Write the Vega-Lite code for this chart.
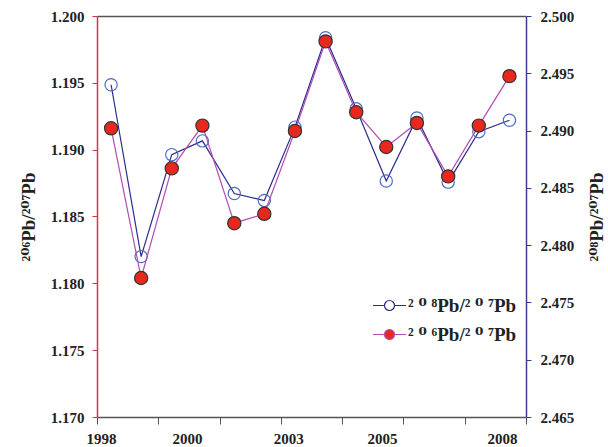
{
  "$schema": "https://vega.github.io/schema/vega-lite/v6.json",
  "width": 429,
  "height": 401,
  "autosize": {"type": "none"},
  "padding": {"left": 97, "top": 16, "right": 82, "bottom": 30},
  "background": "white",
  "config": {
    "view": {"stroke": null},
    "font": "Liberation Serif",
    "axis": {
      "labelFont": "Liberation Serif",
      "labelFontWeight": "bold",
      "labelFontSize": 15,
      "labelColor": "#222222",
      "titleFont": "Liberation Serif, DejaVu Serif",
      "titleFontWeight": "bold",
      "titleFontSize": 19,
      "titleColor": "#222222",
      "grid": false,
      "labelFlush": false,
      "labelOverlap": false
    }
  },
  "data": {
    "values": [
      {"t": 0.23, "r206": 1.1916, "r208": 2.4940},
      {"t": 0.72, "r206": 1.1804, "r208": 2.4790},
      {"t": 1.22, "r206": 1.1886, "r208": 2.4879},
      {"t": 1.72, "r206": 1.1918, "r208": 2.4891},
      {"t": 2.24, "r206": 1.1845, "r208": 2.4845},
      {"t": 2.73, "r206": 1.1852, "r208": 2.4839},
      {"t": 3.23, "r206": 1.1914, "r208": 2.4903},
      {"t": 3.73, "r206": 1.1981, "r208": 2.4981},
      {"t": 4.23, "r206": 1.1928, "r208": 2.4919},
      {"t": 4.72, "r206": 1.1902, "r208": 2.4856},
      {"t": 5.22, "r206": 1.1920, "r208": 2.4911},
      {"t": 5.73, "r206": 1.1880, "r208": 2.4855},
      {"t": 6.23, "r206": 1.1918, "r208": 2.4899},
      {"t": 6.73, "r206": 1.1955, "r208": 2.4909}
    ]
  },
  "layer": [
    {
      "encoding": {
        "x": {
          "field": "t", "type": "quantitative",
          "scale": {"domain": [0, 7], "nice": false, "zero": false},
          "axis": {"orient": "bottom", "values": [0, 1, 2, 3, 4, 5, 6, 7], "labels": false, "tickSize": 7, "tickColor": "#555555", "domainColor": "#555555", "domainWidth": 1.5, "title": null}
        },
        "y": {
          "field": "r208", "type": "quantitative",
          "scale": {"domain": [2.465, 2.5], "nice": false, "zero": false},
          "axis": {
            "orient": "right",
            "values": [2.465, 2.47, 2.475, 2.48, 2.485, 2.49, 2.495, 2.5],
            "format": ".3f",
            "domainColor": "#3c3c94", "domainWidth": 1.5,
            "tickColor": "#3c3c94", "tickSize": 5, "labelPadding": 9,
            "title": "²⁰⁸Pb/²⁰⁷Pb", "titleAngle": 270, "titleBaseline": "top", "titlePadding": 14
          }
        }
      },
      "layer": [
        {
          "mark": {"type": "line", "strokeWidth": 1.2},
          "encoding": {
            "stroke": {
              "datum": "²⁰⁸Pb/²⁰⁷Pb",
              "scale": {"domain": ["²⁰⁸Pb/²⁰⁷Pb", "²⁰⁶Pb/²⁰⁷Pb"], "range": ["#2b2b8c", "#b24db2"]},
              "legend": {
                "orient": "none", "legendX": 283, "legendY": 280, "title": null,
                "symbolType": "M-3.3,0L-1,0M1,0L3.3,0M-1,0A1,1,0,1,0,1,0A1,1,0,1,0,-1,0Z",
                "symbolSize": 100, "symbolStrokeWidth": 1.2,
                "labelFont": "Liberation Serif, DejaVu Serif", "labelFontSize": 19, "labelFontWeight": "bold",
                "labelColor": "#222222", "labelOffset": 9, "rowPadding": 9,
                "labelExpr": "datum.label == '²⁰⁸Pb/²⁰⁷Pb' ? '² ⁰ ⁸Pb/² ⁰ ⁷Pb' : '² ⁰ ⁶Pb/² ⁰ ⁷Pb'"
              }
            }
          }
        },
        {
          "mark": {"type": "point", "filled": true, "stroke": "#4a6cc4", "strokeWidth": 1.2, "size": 150, "opacity": 1},
          "encoding": {
            "fill": {
              "datum": "²⁰⁸Pb/²⁰⁷Pb",
              "scale": {"domain": ["²⁰⁸Pb/²⁰⁷Pb", "²⁰⁶Pb/²⁰⁷Pb"], "range": ["transparent", "#e8281e"]}
            }
          }
        }
      ]
    },
    {
      "mark": {"type": "line", "strokeWidth": 1.2},
      "encoding": {
        "x": {
          "field": "t", "type": "quantitative",
          "scale": {"domain": [0, 7], "nice": false, "zero": false},
          "axis": {
            "orient": "bottom", "values": [0.065, 1.468, 3.12, 4.65, 6.61],
            "labelExpr": "datum.value < 0.5 ? '1998' : datum.value < 2 ? '2000' : datum.value < 4 ? '2003' : datum.value < 5 ? '2005' : '2008'",
            "ticks": false, "domain": false, "labelPadding": 14, "title": null
          }
        },
        "y": {
          "field": "r206", "type": "quantitative",
          "scale": {"domain": [1.17, 1.2], "nice": false, "zero": false},
          "axis": {
            "orient": "left",
            "values": [1.17, 1.175, 1.18, 1.185, 1.19, 1.195, 1.2],
            "format": ".3f",
            "domainColor": "#e0323a", "domainWidth": 1.5,
            "tickColor": "#e0323a", "tickSize": 5, "labelPadding": 8,
            "title": "²⁰⁶Pb/²⁰⁷Pb", "titlePadding": 12
          }
        },
        "stroke": {"datum": "²⁰⁶Pb/²⁰⁷Pb"}
      }
    },
    {
      "mark": {"type": "point", "filled": true, "stroke": "#333333", "strokeWidth": 1.2, "size": 175, "opacity": 1},
      "encoding": {
        "x": {
          "field": "t", "type": "quantitative",
          "scale": {"domain": [0, 7], "nice": false, "zero": false},
          "axis": {"orient": "top", "ticks": false, "labels": false, "domainColor": "#555555", "domainWidth": 1.5, "title": null}
        },
        "y": {
          "field": "r206", "type": "quantitative",
          "scale": {"domain": [1.17, 1.2], "nice": false, "zero": false},
          "axis": null
        },
        "fill": {"datum": "²⁰⁶Pb/²⁰⁷Pb"}
      }
    }
  ],
  "resolve": {"scale": {"y": "independent"}, "axis": {"x": "independent"}}
}
